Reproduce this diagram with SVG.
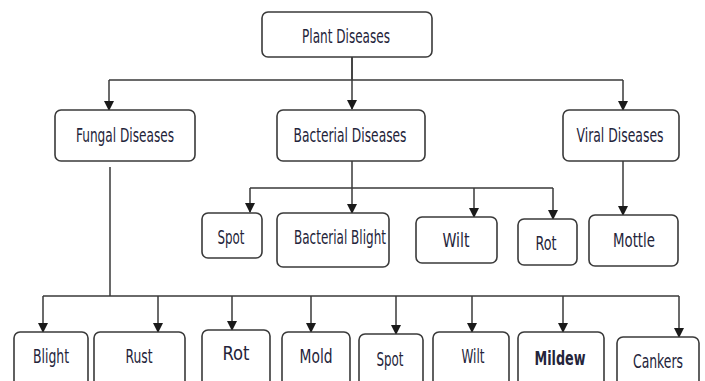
<svg xmlns="http://www.w3.org/2000/svg" width="705" height="381" viewBox="0 0 705 381">
<defs>
<marker id="arr" markerWidth="10" markerHeight="12" refX="9" refY="5" orient="auto" markerUnits="userSpaceOnUse">
<path d="M0,0 L10,5 L0,10 Z" fill="#1a1a1a"/>
</marker>
<style>
.box{fill:#fff;stroke:#3a3a3a;stroke-width:1.6}
.lbl{font-family:"DejaVu Sans Condensed","DejaVu Sans",sans-serif;font-size:20px;fill:#24243a;text-anchor:middle}
.c{fill:none;stroke:#3a3a3a;stroke-width:1.5}
.a{marker-end:url(#arr)}
</style>
</defs>
<rect width="705" height="381" fill="#fff"/>
<g id="connectors">
<path class="c" d="M352,57 V80 M109,80 H623"/>
<path class="c a" d="M109,80 V110"/>
<path class="c a" d="M352,57 V109"/>
<path class="c a" d="M623,80 V110"/>
<path class="c" d="M352,161 V188 M250,188 H553"/>
<path class="c a" d="M250,188 V212"/>
<path class="c a" d="M352,188 V213"/>
<path class="c a" d="M474,188 V217"/>
<path class="c a" d="M553,188 V219"/>
<path class="c a" d="M623,161 V215"/>
<path class="c" d="M110,167 V296 M43,296 H679"/>
<path class="c a" d="M43,296 V332"/>
<path class="c a" d="M158,296 V332"/>
<path class="c a" d="M232,296 V330"/>
<path class="c a" d="M311,296 V332"/>
<path class="c a" d="M396,296 V334"/>
<path class="c a" d="M472,296 V332"/>
<path class="c a" d="M563,296 V332"/>
<path class="c a" d="M679,296 V337"/>
</g>
<g id="plant"><rect class="box" x="262" y="12" width="170" height="45" rx="6"/><text class="lbl" x="346" y="43" textLength="88" lengthAdjust="spacingAndGlyphs">Plant Diseases</text></g>
<g id="fungal"><rect class="box" x="55" y="110" width="140" height="51" rx="6"/><text class="lbl" x="125" y="142" textLength="98" lengthAdjust="spacingAndGlyphs">Fungal Diseases</text></g>
<g id="bacterial"><rect class="box" x="277" y="110" width="148" height="51" rx="6"/><text class="lbl" x="350" y="142" textLength="113" lengthAdjust="spacingAndGlyphs">Bacterial Diseases</text></g>
<g id="viral"><rect class="box" x="563" y="110" width="116" height="51" rx="6"/><text class="lbl" x="620" y="142" textLength="87" lengthAdjust="spacingAndGlyphs">Viral Diseases</text></g>
<g id="b-spot"><rect class="box" x="202" y="213" width="60" height="45" rx="6"/><text class="lbl" x="231" y="244" textLength="27" lengthAdjust="spacingAndGlyphs">Spot</text></g>
<g id="b-blight"><rect class="box" x="277" y="213" width="112" height="54" rx="6"/><text class="lbl" x="340" y="244" textLength="92" lengthAdjust="spacingAndGlyphs">Bacterial Blight</text></g>
<g id="b-wilt"><rect class="box" x="416" y="217" width="81" height="46" rx="6"/><text class="lbl" x="456" y="247" textLength="27" lengthAdjust="spacingAndGlyphs">Wilt</text></g>
<g id="b-rot"><rect class="box" x="518" y="219" width="59" height="46" rx="6"/><text class="lbl" x="546" y="250" textLength="21" lengthAdjust="spacingAndGlyphs">Rot</text></g>
<g id="mottle"><rect class="box" x="589" y="215" width="89" height="51" rx="6"/><text class="lbl" x="634" y="247" textLength="42" lengthAdjust="spacingAndGlyphs">Mottle</text></g>
<g id="f-blight"><rect class="box" x="14" y="332" width="74" height="60" rx="6"/><text class="lbl" x="51" y="363" textLength="36" lengthAdjust="spacingAndGlyphs">Blight</text></g>
<g id="f-rust"><rect class="box" x="94" y="332" width="91" height="60" rx="6"/><text class="lbl" x="139" y="363" textLength="27" lengthAdjust="spacingAndGlyphs">Rust</text></g>
<g id="f-rot"><rect class="box" x="202" y="330" width="68" height="60" rx="6"/><text class="lbl" x="236" y="360" textLength="27" lengthAdjust="spacingAndGlyphs">Rot</text></g>
<g id="f-mold"><rect class="box" x="282" y="332" width="68" height="60" rx="6"/><text class="lbl" x="316" y="363" textLength="33" lengthAdjust="spacingAndGlyphs">Mold</text></g>
<g id="f-spot"><rect class="box" x="359" y="334" width="64" height="60" rx="6"/><text class="lbl" x="390" y="366" textLength="27" lengthAdjust="spacingAndGlyphs">Spot</text></g>
<g id="f-wilt"><rect class="box" x="433" y="332" width="76" height="60" rx="6"/><text class="lbl" x="473" y="363" textLength="23" lengthAdjust="spacingAndGlyphs">Wilt</text></g>
<g id="f-mildew"><rect class="box" x="518" y="332" width="86" height="60" rx="6"/><text class="lbl" x="560" y="365" textLength="51" lengthAdjust="spacingAndGlyphs" font-weight="bold">Mildew</text></g>
<g id="f-cankers"><rect class="box" x="617" y="337" width="82" height="60" rx="6"/><text class="lbl" x="658" y="368" textLength="50" lengthAdjust="spacingAndGlyphs">Cankers</text></g>
</svg>
